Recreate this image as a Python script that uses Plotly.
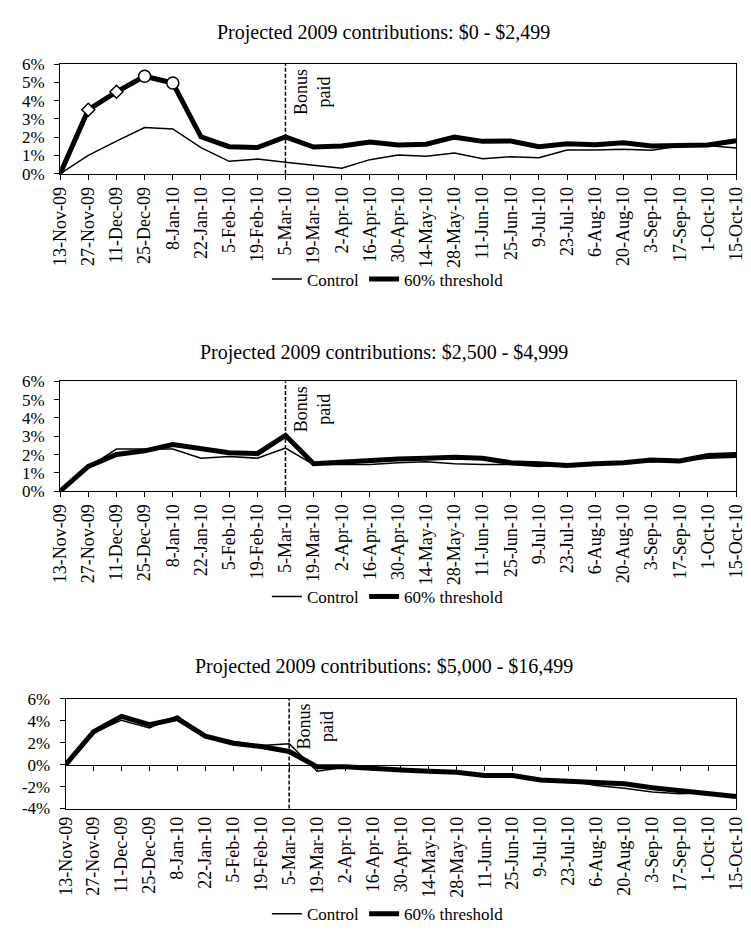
import plotly.graph_objects as go

dates = ["13-Nov-09", "27-Nov-09", "11-Dec-09", "25-Dec-09", "8-Jan-10", "22-Jan-10",
         "5-Feb-10", "19-Feb-10", "5-Mar-10", "19-Mar-10", "2-Apr-10", "16-Apr-10",
         "30-Apr-10", "14-May-10", "28-May-10", "11-Jun-10", "25-Jun-10", "9-Jul-10",
         "23-Jul-10", "6-Aug-10", "20-Aug-10", "3-Sep-10", "17-Sep-10", "1-Oct-10", "15-Oct-10"]

titles = ["Projected 2009 contributions: $0 - $2,499",
          "Projected 2009 contributions: $2,500 - $4,999",
          "Projected 2009 contributions: $5,000 - $16,499"]

series_names = ["Control", "60% threshold"]

p1_control = [0, 1.0, 1.78, 2.53, 2.45, 1.43, 0.68, 0.8, 0.63, 0.48, 0.3, 0.77, 1.03,
              0.95, 1.13, 0.82, 0.93, 0.88, 1.3, 1.3, 1.34, 1.29, 1.52, 1.55, 1.41]
p1_thresh = [0, 3.5, 4.48, 5.33, 4.96, 2.02, 1.48, 1.43, 2.02, 1.46, 1.52, 1.73, 1.57,
             1.61, 2.0, 1.77, 1.79, 1.48, 1.64, 1.59, 1.7, 1.52, 1.54, 1.57, 1.8]

p2_control = [0, 1.3, 2.3, 2.3, 2.3, 1.8, 1.9, 1.8, 2.35, 1.45, 1.45, 1.45, 1.55,
              1.6, 1.5, 1.45, 1.45, 1.35, 1.45, 1.5, 1.6, 1.6, 1.65, 1.8, 1.85]
p2_thresh = [0, 1.35, 2.0, 2.2, 2.55, 2.35, 2.1, 2.05, 3.05, 1.5, 1.6, 1.65, 1.75,
             1.8, 1.85, 1.8, 1.55, 1.5, 1.4, 1.5, 1.55, 1.7, 1.65, 1.95, 2.0]

p3_control = [0, 2.9, 4.05, 3.35, 4.45, 2.5, 2.1, 1.75, 1.9, -0.6, -0.25, -0.4, -0.45,
              -0.55, -0.7, -1.0, -1.0, -1.4, -1.5, -1.9, -2.15, -2.5, -2.65, -2.55, -2.9]
p3_thresh = [0, 3.0, 4.4, 3.65, 4.2, 2.6, 1.95, 1.65, 1.2, -0.2, -0.2, -0.4, -0.5,
             -0.6, -0.7, -1.0, -1.0, -1.4, -1.5, -1.55, -1.75, -2.1, -2.35, -2.55, -2.9]

y_ticks_12 = [0, 1, 2, 3, 4, 5, 6]
y_ticks_3 = [-4, -2, 0, 2, 4, 6]

bonus_date = "5-Mar-10"
bonus_text = "Bonus<br>paid"

# ---- styling ----
FONT = "Liberation Serif, Times New Roman, serif"
W, H = 751, 931


def py(px):
    return 1 - px / H


fig = go.Figure()

panels = [
    dict(ctrl=p1_control, thr=p1_thresh, xa="x", ya="y", leg="legend"),
    dict(ctrl=p2_control, thr=p2_thresh, xa="x2", ya="y2", leg="legend2"),
    dict(ctrl=p3_control, thr=p3_thresh, xa="x3", ya="y3", leg="legend3"),
]

for p in panels:
    fig.add_trace(go.Scatter(x=dates, y=p["ctrl"], mode="lines", name=series_names[0],
                             line=dict(color="black", width=1.5),
                             xaxis=p["xa"], yaxis=p["ya"], legend=p["leg"]))
    fig.add_trace(go.Scatter(x=dates, y=p["thr"], mode="lines", name=series_names[1],
                             line=dict(color="black", width=5),
                             xaxis=p["xa"], yaxis=p["ya"], legend=p["leg"]))

# markers on panel 1 threshold series
diamond_idx = [1, 2]
circle_idx = [3, 4]
fig.add_trace(go.Scatter(x=[dates[i] for i in diamond_idx], y=[p1_thresh[i] for i in diamond_idx],
                         mode="markers", showlegend=False,
                         marker=dict(symbol="diamond", size=10, color="white",
                                     line=dict(color="black", width=1.5)),
                         xaxis="x", yaxis="y"))
fig.add_trace(go.Scatter(x=[dates[i] for i in circle_idx], y=[p1_thresh[i] for i in circle_idx],
                         mode="markers", showlegend=False,
                         marker=dict(symbol="circle", size=12, color="white",
                                     line=dict(color="black", width=1.5)),
                         xaxis="x", yaxis="y"))

xdom12 = [43.3 / W, 737.7 / W]
xdom3 = [49 / W, 737.7 / W]
xtickfont = dict(family=FONT, size=18, color="black")
ytickfont = dict(family=FONT, size=17, color="black")

common_x = dict(type="category", categoryorder="array", categoryarray=dates, range=[0, 24],
                showline=True, linecolor="black", linewidth=1, ticks="outside", ticklen=5,
                tickcolor="black", tickangle=-90, tickfont=xtickfont, showgrid=False,
                zeroline=False, fixedrange=True)
common_y = dict(showline=True, linecolor="black", linewidth=1, ticks="outside", ticklen=5,
                tickcolor="black", tickfont=ytickfont, showgrid=False, mirror=True,
                zeroline=False, fixedrange=True, ticklabelstandoff=6)

fig.update_layout(
    width=W, height=H, margin=dict(l=0, r=0, t=0, b=0),
    paper_bgcolor="white", plot_bgcolor="white",
    font=dict(family=FONT, size=18, color="black"),
    xaxis=dict(common_x, domain=xdom12, anchor="y", mirror=True),
    yaxis=dict(common_y, domain=[py(160), py(48)], anchor="x", range=[0, 6],
               tickvals=y_ticks_12, ticktext=[f"{v}%" for v in y_ticks_12]),
    xaxis2=dict(common_x, domain=xdom12, anchor="y2", mirror=True),
    yaxis2=dict(common_y, domain=[py(484), py(372)], anchor="x2", range=[0, 6],
                tickvals=y_ticks_12, ticktext=[f"{v}%" for v in y_ticks_12]),
    # panel 3: axis line with ticks at 0%, labels at bottom
    xaxis3=dict(common_x, domain=xdom3, anchor="free", position=py(763.3),
                showticklabels=False, mirror=False),
    xaxis4=dict(common_x, overlaying="x3", anchor="y3", ticks="", mirror=True,
                showticklabels=True),
    yaxis3=dict(common_y, domain=[py(808), py(696)], anchor="x3", range=[-4, 6],
                tickvals=y_ticks_3, ticktext=[f"{v}%" for v in y_ticks_3]),
)

# helper (empty) trace so the label axis of panel 3 is drawn
fig.add_trace(go.Scatter(x=dates, y=[None] * len(dates), mode="lines", showlegend=False,
                         hoverinfo="skip", xaxis="x4", yaxis="y3"))

# legends
leg_common = dict(orientation="h", xanchor="center", x=0.506, yanchor="middle",
                  font=dict(family=FONT, size=17, color="black"), bgcolor="rgba(0,0,0,0)",
                  itemwidth=30, tracegroupgap=0)
fig.update_layout(legend=dict(leg_common, y=py(268)),
                  legend2=dict(leg_common, y=py(592)),
                  legend3=dict(leg_common, y=py(916)))

# titles
for t, yp in zip(titles, [16, 342, 663]):
    fig.add_annotation(text=t, xref="paper", yref="paper", x=0.5, y=py(yp),
                       xanchor="center", yanchor="middle", showarrow=False,
                       font=dict(family=FONT, size=20, color="black"))

# bonus lines and labels
for xa, ya in [("x", "y"), ("x2", "y2"), ("x3", "y3")]:
    fig.add_shape(type="line", xref=xa, yref=f"{ya} domain", x0=bonus_date, x1=bonus_date,
                  y0=0, y1=1, line=dict(color="black", width=1.5, dash="4px,2px"))
    fig.add_annotation(text=bonus_text, xref=xa, yref=f"{ya} domain", x=bonus_date, y=1,
                       xanchor="left", yanchor="top", xshift=3, yshift=-3,
                       textangle=-90, showarrow=False, align="center",
                       font=dict(family=FONT, size=18, color="black"))

fig.write_html("out.html")
